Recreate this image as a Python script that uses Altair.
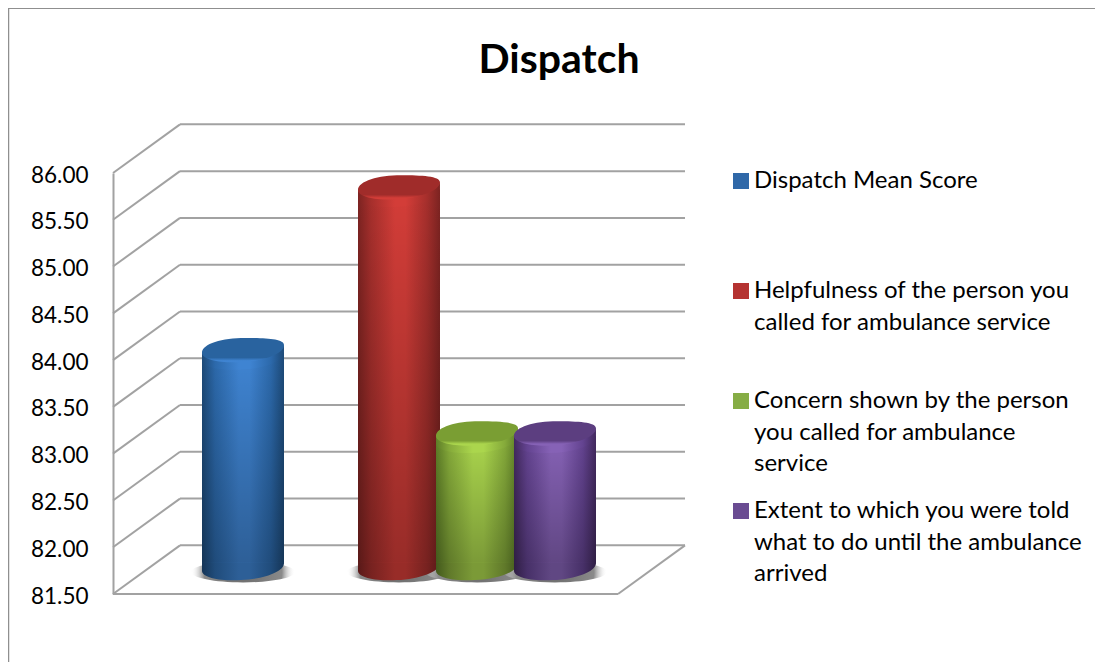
import altair as alt
import pandas as pd

title = "Dispatch"
categories = [
    "Dispatch Mean Score",
    "Helpfulness of the person you called for ambulance service",
    "Concern shown by the person you called  for ambulance service",
    "Extent to which you were told what to do until the ambulance arrived",
]
values = [83.83, 85.57, 82.94, 82.94]
label_lines = [
    ["Dispatch Mean Score"],
    ["Helpfulness of the person you", "called for ambulance service"],
    ["Concern shown by the person", "you called  for ambulance", "service"],
    ["Extent to which you were told", "what to do until the ambulance", "arrived"],
]
legend_colors = ["#2f68a8", "#b53331", "#86ad45", "#6a4c92"]
edge_colors = ["#1d4a78", "#7c2321", "#5d7d27", "#42295e"]
shoulder_colors = ["#2c69ab", "#a62f2c", "#85aa3a", "#634390"]
mid_colors = ["#3f84d2", "#d33d38", "#abd64d", "#8662b6"]
low_edge_colors = ["#153557", "#591918", "#435a1c", "#2f1e44"]
low_shoulder_colors = ["#204c7b", "#772220", "#60792a", "#473068"]
low_mid_colors = ["#2d5f97", "#982c28", "#7b9a37", "#604783"]
cap_colors = ["#29639f", "#a02c2a", "#7a9e33", "#5c3e80"]
ticks = [81.5, 82, 82.5, 83, 83.5, 84, 84.5, 85, 85.5, 86]
GRID = "#a2a2a2"
BASE = 81.78
slots = [categories[0], "_gap", categories[1], categories[2], categories[3]]

W, H = 572, 421
yscale = alt.Scale(domain=[81.5, 86], range=[H, 0], nice=False, zero=False)
xgrid = alt.Scale(domain=[0, W], range=[0, W], nice=False, zero=False)
xband = alt.Scale(domain=slots, range=[91, 481], paddingInner=0, paddingOuter=0)
yaxis = alt.Axis(
    values=ticks, format=".2f", ticks=False, grid=False, domain=True, title=None,
    domainColor=GRID, domainWidth=2, labelFont="Lato", labelFontSize=22.5,
    labelColor="#000000", labelPadding=25, labelOffset=2)


def Y(field):
    return alt.Y(field, scale=yscale, axis=yaxis)


grid_df = pd.DataFrame({"v": ticks})
grid_df["back"] = grid_df["v"] + 0.52
grid_df["x0"], grid_df["x1"], grid_df["x2"] = 0, 67, 572

side = alt.Chart(grid_df).mark_rule(color=GRID, strokeWidth=2).encode(
    x=alt.X("x0:Q", scale=xgrid, axis=None), x2="x1:Q", y=Y("v:Q"), y2="back:Q",
)
back = alt.Chart(grid_df).mark_rule(color=GRID, strokeWidth=2).encode(
    x=alt.X("x1:Q", scale=xgrid, axis=None), x2="x2:Q", y=Y("back:Q"),
)
floor_back = alt.Chart(pd.DataFrame({"a": [505], "b": [572], "p": [81.5], "q": [82.02]})).mark_rule(
    color=GRID, strokeWidth=2).encode(
    x=alt.X("a:Q", scale=xgrid, axis=None), x2="b:Q", y=Y("p:Q"), y2="q:Q",
)
floor_front = alt.Chart(pd.DataFrame({"a": [0], "b": [505], "p": [81.5]})).mark_rule(
    color=GRID, strokeWidth=2).encode(
    x=alt.X("a:Q", scale=xgrid, axis=None), x2="b:Q", y=Y("p:Q"),
)
frame_left = alt.Chart(pd.DataFrame({"a": [0]})).mark_rule(color="#8f8f8f", strokeWidth=1.5).encode(
    x=alt.value(-104.5), y=alt.value(-165), y2=alt.value(489))
frame_top = alt.Chart(pd.DataFrame({"a": [0]})).mark_rule(color="#8f8f8f", strokeWidth=2).encode(
    x=alt.value(-105), x2=alt.value(982), y=alt.value(-165))

CAP = ("M -1 0.07 C -1 -0.15 -0.5 -0.29 0.05 -0.29 C 0.55 -0.29 1 -0.27 1 -0.12 "
       "C 1 0.1 0.5 0.27 -0.05 0.3 C -0.5 0.33 -1 0.25 -1 0.07 Z")
SHADOW = "M -1 0 A 1 0.2 0 1 1 1 0 A 1 0.2 0 1 1 -1 0 Z"
SIZE = 82 ** 2
bars = pd.DataFrame({"cat": categories, "value": values})
bars["top"] = bars["value"] + (BASE - 81.5)
bars["base"] = BASE
bars["shadow"] = BASE - 0.045
bars["body_top"] = bars["top"] - 0.03
bars["body_base"] = BASE + 0.055


def h_grad(e, s, m):
    return {"gradient": "linear", "x1": 0, "x2": 1, "y1": 0, "y2": 0, "stops": [
        {"offset": 0, "color": e},
        {"offset": 0.16, "color": s},
        {"offset": 0.45, "color": m},
        {"offset": 0.58, "color": m},
        {"offset": 0.84, "color": s},
        {"offset": 1, "color": e},
    ]}


def cap_grad(i):
    return {"gradient": "linear", "x1": 0, "x2": 0, "y1": 0, "y2": 1, "stops": [
        {"offset": 0, "color": cap_colors[i]},
        {"offset": 0.8, "color": cap_colors[i]},
        {"offset": 0.93, "color": mid_colors[i]},
        {"offset": 1, "color": mid_colors[i]},
    ]}


X = alt.X("cat:N", scale=xband, axis=None, sort=slots)
layers = [frame_left, frame_top, side, back, floor_front, floor_back]

shadow = alt.Chart(bars).mark_point(
    shape=SHADOW, size=104 ** 2, filled=True, opacity=1, strokeWidth=0,
    color={"gradient": "radial", "x1": 0.5, "y1": 0.5, "x2": 0.5, "y2": 0.5, "r1": 0, "r2": 0.5,
           "stops": [{"offset": 0, "color": "#6a6a6a"}, {"offset": 0.75, "color": "#8a8a8a"},
                     {"offset": 1, "color": "rgba(255,255,255,0)"}]},
).encode(x=X, y=Y("shadow:Q"))
layers.append(shadow)

base_bars = alt.Chart(bars).mark_bar(width=78).encode(
    x=X,
    y=Y("body_top:Q"), y2="body_base:Q",
    color=alt.Color("cat:N", scale=alt.Scale(domain=categories, range=legend_colors), sort=categories,
                    legend=alt.Legend(
                        title=None, orient="none", legendX=616, legendY=-27, padding=0,
                        symbolType="M -1 -1.875 H 1 V 0.125 H -1 Z", symbolSize=256,
                        symbolStrokeWidth=0, clipHeight=84, rowPadding=0, gridAlign="all", columns=1,
                        labelFont="Lato",
                        labelFontSize=24, labelColor="#000000", labelBaseline="alphabetic",
                        labelLimit=400, labelOffset=1,
                        labelExpr="{" + ",".join(
                            repr(c) + ":" + repr(l) for c, l in zip(categories, label_lines)
                        ) + "}[datum.label]",
                    )),
)
layers.append(base_bars)

for i, c in enumerate(categories):
    one = bars[bars["cat"] == c]
    pt = dict(shape=CAP, size=SIZE, filled=True, opacity=1, strokeWidth=0)
    low = h_grad(low_edge_colors[i], low_shoulder_colors[i], low_mid_colors[i])
    high = h_grad(edge_colors[i], shoulder_colors[i], mid_colors[i])
    for off in [0, 0.02, 0.04, 0.06, 0.08]:
        d = one.assign(yy=one["base"] + off)
        layers.append(alt.Chart(d).mark_point(color=low, **pt).encode(x=X, y=Y("yy:Q")))
    layers.append(alt.Chart(one).mark_bar(width=82, color=high).encode(
        x=X, y=Y("body_top:Q"), y2="body_base:Q"))
    layers.append(alt.Chart(one).mark_bar(width=82, color={
        "gradient": "linear", "x1": 0, "x2": 0, "y1": 0, "y2": 1, "stops": [
            {"offset": 0, "color": "rgba(0,0,0,0)"}, {"offset": 1, "color": "rgba(0,0,0,0.28)"}]}).encode(
        x=X, y=Y("body_top:Q"), y2="body_base:Q"))
    for off in [0.08, 0.06, 0.04, 0.02]:
        d = one.assign(yy=one["top"] - off)
        layers.append(alt.Chart(d).mark_point(color=high, **pt).encode(x=X, y=Y("yy:Q")))
    layers.append(alt.Chart(one).mark_point(color=cap_grad(i), **pt).encode(x=X, y=Y("top:Q")))

chart = alt.layer(*layers).resolve_scale(x="independent").properties(
    width=W, height=H,
    padding={"left": 105, "top": 165, "right": 410, "bottom": 68},
    autosize=alt.AutoSizeParams(type="none"),
    title=alt.TitleParams(title, font="Lato", fontSize=41, fontWeight="bold", color="#000000",
                          anchor="middle", dx=160, offset=0, dy=75),
).configure(style={"guide-label": {"lineHeight": 31.5}}).configure_view(stroke=None)

chart.save("out.html", embed_options={"renderer": "svg", "actions": False})
